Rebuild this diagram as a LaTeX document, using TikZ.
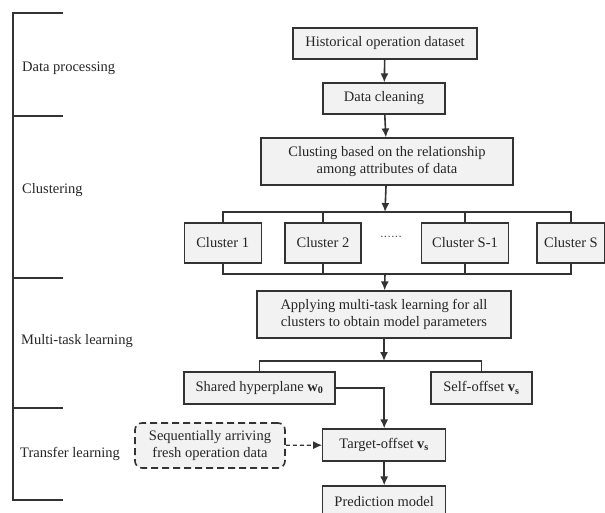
\documentclass[tikz,border=0pt]{standalone}
\usepackage{fontspec}
\setmainfont{Liberation Serif}
\usepackage{tikz}
\usetikzlibrary{arrows.meta,positioning}
\tikzset{>={Latex[length=9pt,width=8pt]}}
\tikzset{
  box/.style={draw=black!80, line width=1.2pt, fill=black!5, inner sep=0pt, align=center, text=black!85, font=\fontsize{14.5}{17}\selectfont},
  link/.style={draw=black!80, line width=1.6pt},
  bracketline/.style={draw=black!80, line width=2.2pt},
  phase/.style={anchor=west, inner sep=0pt, text=black!85, font=\fontsize{14.5}{17}\selectfont},
}

\begin{document}
\begin{tikzpicture}[x=1pt,y=-1pt]
\useasboundingbox (0,0) rectangle (605,513);
% stages on the left
\draw[bracketline] (63,13) -- (13,13) -- (13,500) -- (63,500);
\foreach \y in {116,278,408}
  \draw[bracketline] (13,\y) -- (63,\y);
\node[phase] (dp) at (22,68) {Data processing};
\node[phase] (cl) at (22,190) {Clustering};
\node[phase] (mt) at (21,341) {Multi-task learning};
\node[phase] (tl) at (20,454) {Transfer learning};
% flow
\node[box, minimum width=184pt, minimum height=31pt] (hist) at (385,43.5) {Historical operation dataset};
\node[box, minimum width=122pt, minimum height=31pt] (clean) at (384,98.5) {Data cleaning};
\node[box, minimum width=252pt, minimum height=47pt] (clust) at (387,161.5) {Clusting based on the relationship\\among attributes of data};
\node[box, minimum width=77pt, minimum height=40pt] (c1) at (222.7,243) {Cluster 1};
\node[box, minimum width=76pt, minimum height=40pt] (c2) at (323,243) {Cluster 2};
\node[inner sep=0pt, text=black!85, font=\fontsize{11}{13}\selectfont] (dots) at (391,238) {······};
\node[box, minimum width=87pt, minimum height=40pt] (cS1) at (465,243) {Cluster S-1};
\node[box, minimum width=68pt, minimum height=40pt] (cS) at (571,243) {Cluster S};
\coordinate (top) at (385,212);
\coordinate (bot) at (385,274);
\draw[link,->] (hist) -- (clean);
\draw[link,->] (clean) -- (clust);
\draw[link,->] (clust) -- (top);
\draw[link] (c1.north) -- (c1.north |- top) -| (cS.north);
\draw[link] (c2.north) -- (c2.north |- top);
\draw[link] (cS1.north) -- (cS1.north |- top);
\draw[link] (c1.south) -- (c1.south |- bot) -| (cS.south);
\draw[link] (c2.south) -- (c2.south |- bot);
\draw[link] (cS1.south) -- (cS1.south |- bot);
\node[box, minimum width=254pt, minimum height=47pt] (apply) at (384,314.5) {Applying multi-task learning for all\\clusters to obtain model parameters};
\draw[link,->] (bot) -- (apply);
\coordinate (split) at (384,361);
\node[box, minimum width=151pt, minimum height=32pt] (shared) at (259.5,388) {Shared hyperplane \textbf{w}\textsubscript{\textbf{0}}};
\node[box, minimum width=101pt, minimum height=32pt] (self) at (481.5,388) {Self-offset \textbf{v}\textsubscript{\textbf{s}}};
\draw[link,->] (apply) -- (split);
\draw[link] (shared.north) |- (split) -| (self.north);
\node[box, minimum width=123pt, minimum height=32pt] (target) at (384.2,445) {Target-offset \textbf{v}\textsubscript{\textbf{s}}};
\node[box, dash pattern=on 7pt off 4pt, rounded corners=7pt, line width=1.6pt, minimum width=150pt, minimum height=45pt] (seq) at (210,445.5) {Sequentially arriving\\fresh operation data};
\node[box, minimum width=123pt, minimum height=32pt] (pred) at (384.2,502) {Prediction model};
\draw[link,->] (shared.east) -| (target.north);
\draw[link,dash pattern=on 4pt off 3pt,line width=1.3pt,->] (seq) -- (target);
\draw[link,->] (target) -- (pred);
\end{tikzpicture}
\end{document}
